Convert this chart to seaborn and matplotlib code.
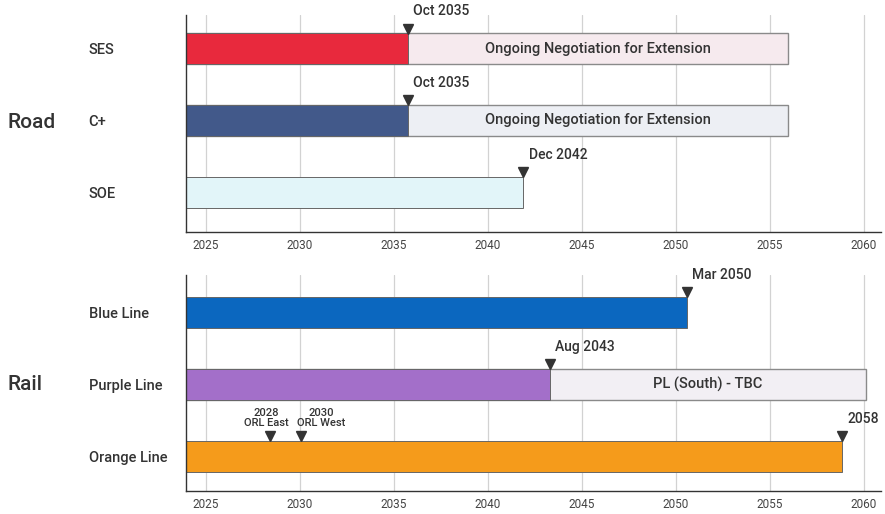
import numpy as np
import pandas as pd
import seaborn as sns
import matplotlib.pyplot as plt

# road concessions
road_names = ["SES", "C+", "SOE"]
road_end = [2035.75, 2035.75, 2041.9]
road_ext = [2056.0, 2056.0, np.nan]
road_colors = ["#E8293D", "#42598A", "#E2F5F9"]
road_marks = ["Oct 2035", "Oct 2035", "Dec 2042"]

# rail concessions
rail_names = ["Blue Line", "Purple Line", "Orange Line"]
rail_end = [2050.6, 2043.3, 2058.85]
rail_ext = [np.nan, 2060.1, np.nan]
rail_colors = ["#0B67BF", "#A36FC9", "#F59B1B"]
rail_marks = ["Mar 2050", "Aug 2043", "2058"]

ext_text = {"SES": "Ongoing Negotiation for Extension",
            "C+": "Ongoing Negotiation for Extension",
            "Purple Line": "PL (South) - TBC"}
ext_colors = {"SES": "#F6EAEE", "C+": "#EDEFF4", "Purple Line": "#F2EFF4"}

# orange line milestones
ms_years = [2028.4, 2030.1]
ms_labels = ["2028\nORL East", "2030\nORL West"]

sns.set_theme(style="white")
plt.rcParams['font.family'] = ['Roboto', 'DejaVu Sans']

fig = plt.figure(figsize=(8.85, 5.14), dpi=100)
ax1 = fig.add_axes([0.210, 0.549, 0.785, 0.422])
ax2 = fig.add_axes([0.210, 0.045, 0.785, 0.420])

BH = 0.43


def draw_panel(ax, names, ends, exts, colors, marks, ylim):
    df = pd.DataFrame({"name": names, "end": ends, "ext": exts})
    dext = df.dropna(subset=["ext"])
    if len(dext):
        sns.barplot(data=dext, x="ext", y="name", order=names, hue="name",
                    palette=[ext_colors[n] for n in dext["name"]], legend=False,
                    width=BH, saturation=1, edgecolor="#8a8a8a", linewidth=1.0, ax=ax)
    sns.barplot(data=df, x="end", y="name", order=names, hue="name",
                palette=colors, legend=False, width=BH, saturation=1,
                edgecolor="#666666", linewidth=0.7, ax=ax)
    ax.set_xlim(2023.95, 2060.9)
    ax.set_ylim(*ylim)
    ax.set_xticks(np.arange(2025, 2061, 5))
    ax.grid(axis="x", color="#d2d2d2", linewidth=0.9)
    ax.set_axisbelow(True)
    for s in ["top", "right"]:
        ax.spines[s].set_visible(False)
    for s in ["left", "bottom"]:
        ax.spines[s].set_color("#333333")
        ax.spines[s].set_linewidth(1.0)
    ax.set_xlabel("")
    ax.set_ylabel("")
    ax.tick_params(axis="x", labelsize=8.5, labelcolor="#444444", length=0, pad=5)
    ax.tick_params(axis="y", labelsize=10.5, labelcolor="#333333", length=0, pad=70)
    for t in ax.get_yticklabels():
        t.set_horizontalalignment("left")
        t.set_fontweight("medium")
    for i, (n, e, x, m) in enumerate(zip(names, ends, exts, marks)):
        top = i - BH / 2
        ax.plot(e, top - 0.065, marker="v", color="#333333", markersize=7, zorder=5)
        ax.annotate(m, (e, top), xytext=(4, 11), textcoords="offset points",
                    fontsize=10, color="#333333", fontweight="medium", va="bottom")
        if not np.isnan(x):
            ax.text((e + x) / 2, i, ext_text[n], ha="center", va="center",
                    fontsize=10.5, color="#333333", fontweight="medium")


draw_panel(ax1, road_names, road_end, road_ext, road_colors, road_marks, (2.55, -0.47))
draw_panel(ax2, rail_names, rail_end, rail_ext, rail_colors, rail_marks, (2.48, -0.52))

# orange line milestones
top = 2 - BH / 2
for yr, lab, ha, dx in zip(ms_years, ms_labels, ["center", "left"], [-2, -3]):
    ax2.plot(yr, top - 0.065, marker="v", color="#333333", markersize=7, zorder=5)
    ax2.annotate(lab, (yr, top), xytext=(dx, 9), textcoords="offset points",
                 fontsize=8, color="#333333", fontweight="medium",
                 ha=ha, va="bottom", multialignment="center", linespacing=1.0)

fig.text(0.009, 1 - 122 / 514, "Road", fontsize=15, color="#333333",
         fontweight="medium", va="center")
fig.text(0.009, 1 - 385 / 514, "Rail", fontsize=15, color="#333333",
         fontweight="medium", va="center")

fig.savefig("out.png", dpi=100)
